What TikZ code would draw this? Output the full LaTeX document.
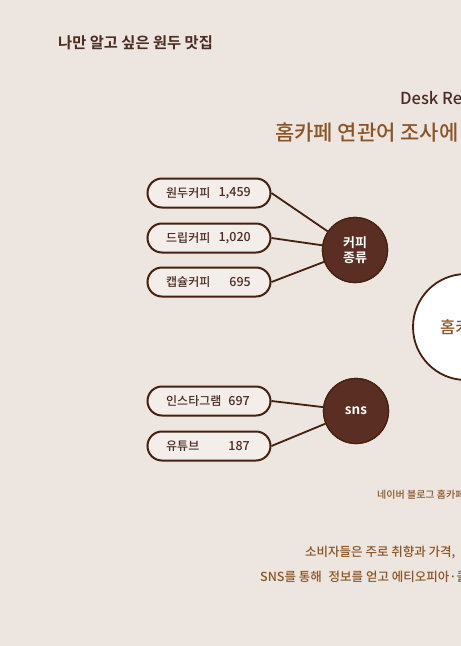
\documentclass[tikz,border=0pt]{standalone}
\usepackage{fontspec}
\setmainfont{Noto Sans CJK KR}[UprightFont=* Medium, BoldFont=* Bold]
\definecolor{bgc}{HTML}{EDE5DF}
\definecolor{brownd}{HTML}{5A2E23}
\definecolor{brownb}{HTML}{45200F}
\definecolor{pillf}{HTML}{F3EEEA}
\definecolor{txtd}{HTML}{4A2C22}
\definecolor{gold}{HTML}{8A5526}
\tikzset{
  pill/.style={draw=brownb, line width=2pt, fill=pillf, rounded corners=14.5pt,
    minimum width=123pt, minimum height=29pt, inner sep=0pt},
  hub/.style={circle, draw=brownb, line width=1.2pt, fill=brownd, minimum size=65pt,
    inner sep=0pt, text=white, font=\fontsize{13}{15.5}\selectfont\bfseries, align=center},
  link/.style={draw=brownb, line width=1.8pt},
  pilltxt/.style={text=txtd, font=\fontsize{12}{13}\selectfont, anchor=west, inner sep=0pt},
  numtxt/.style={text=txtd, font=\fontsize{12.5}{13}\selectfont, anchor=east, inner sep=0pt}
}
\begin{document}
\begin{tikzpicture}[x=1pt,y=-1pt]
\useasboundingbox (0,0) rectangle (461,646);
\clip (0,0) rectangle (461,646);
\fill[bgc] (0,0) rectangle (461,646);

\node[anchor=west, inner sep=0pt, text=txtd, font=\fontsize{15.3}{17}\selectfont\bfseries] (title) at (58,43) {나만 알고 싶은 원두 맛집};
\node[anchor=west, inner sep=0pt, text=txtd, font=\fontsize{16.5}{18}\selectfont] (desk) at (400,98) {Desk Re};
\node[anchor=west, inner sep=0pt, text=gold, font=\fontsize{21}{23}\selectfont] (sub) at (275,133) {홈카페 연관어 조사에};

% big circle
\node[circle, draw=brownb, line width=1.8pt, fill=white, minimum size=106pt, inner sep=0pt] (home) at (466,327) {};
\node[anchor=west, inner sep=0pt, text=gold, font=\fontsize{16.5}{18}\selectfont] (hometxt) at (440,327) {홈카페};

% coffee group
\node[pill] (p1) at (209,193) {};
\node[pill] (p2) at (209,238) {};
\node[pill] (p3) at (209,282) {};
\node[pilltxt] (t1) at (166,193) {원두커피};
\node[pilltxt] (t2) at (166,238) {드립커피};
\node[pilltxt] (t3) at (166,282) {캡슐커피};
\node[numtxt] (n1) at (251,193) {1,459};
\node[numtxt] (n2) at (251,238) {1,020};
\node[numtxt] (n3) at (251,282) {695};
\node[hub] (coffee) at (355,250) {};
\draw[link] (p1.east) -- (coffee);
\draw[link] (p2.east) -- (coffee);
\draw[link] (p3.east) -- (coffee);
\node[hub] (coffeetxt) at (355,250) {커피\\[-1pt]종류};

% sns group
\node[pill] (s1) at (209,401) {};
\node[pill] (s2) at (209,446) {};
\node[pilltxt] (u1) at (166,401) {인스타그램};
\node[pilltxt] (u2) at (166,446) {유튜브};
\node[numtxt] (m1) at (250,401) {697};
\node[numtxt] (m2) at (250,446) {187};
\node[hub] (sns) at (356,411) {};
\draw[link] (s1.east) -- (sns);
\draw[link] (s2.east) -- (sns);
\node[hub, font=\fontsize{13.5}{15}\selectfont\bfseries] (snstxt) at (356,411) {sns};

% notes
\node[anchor=west, inner sep=0pt, text=gold, font=\fontsize{10}{11}\selectfont] (src) at (377,495) {네이버 블로그 홈카페};
\node[anchor=west, inner sep=0pt, text=gold, font=\fontsize{12.5}{14}\selectfont] (l1) at (305,553) {소비자들은 주로 취향과 가격,};
\node[anchor=west, inner sep=0pt, text=gold, font=\fontsize{12.5}{14}\selectfont] (l2) at (260,577) {SNS를 통해\hspace{4pt} 정보를 얻고 에티오피아·콜};
\end{tikzpicture}
\end{document}
